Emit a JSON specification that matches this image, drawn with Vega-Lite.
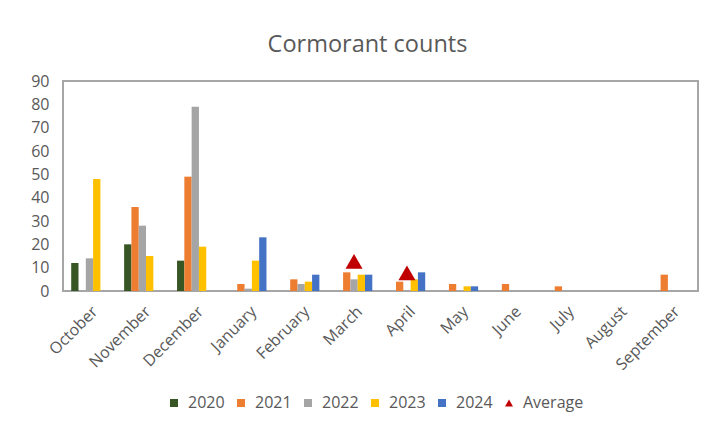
{
  "$schema": "https://vega.github.io/schema/vega-lite/v6.json",
  "width": 635,
  "height": 210,
  "autosize": {"type": "none"},
  "padding": {"left": 63, "top": 81, "right": 8, "bottom": 139},
  "background": "#ffffff",
  "title": {
    "text": "Cormorant counts",
    "font": "Open Sans",
    "fontSize": 23.5,
    "fontWeight": "normal",
    "color": "#595959",
    "anchor": "middle",
    "dx": -13,
    "baseline": "alphabetic",
    "offset": -2
  },
  "datasets": {
    "counts": [
      {"month": "October", "series": "2020", "count": 12},
      {"month": "October", "series": "2022", "count": 14},
      {"month": "October", "series": "2023", "count": 48},
      {"month": "November", "series": "2020", "count": 20},
      {"month": "November", "series": "2021", "count": 36},
      {"month": "November", "series": "2022", "count": 28},
      {"month": "November", "series": "2023", "count": 15},
      {"month": "December", "series": "2020", "count": 13},
      {"month": "December", "series": "2021", "count": 49},
      {"month": "December", "series": "2022", "count": 79},
      {"month": "December", "series": "2023", "count": 19},
      {"month": "January", "series": "2021", "count": 3},
      {"month": "January", "series": "2022", "count": 1},
      {"month": "January", "series": "2023", "count": 13},
      {"month": "January", "series": "2024", "count": 23},
      {"month": "February", "series": "2021", "count": 5},
      {"month": "February", "series": "2022", "count": 3},
      {"month": "February", "series": "2023", "count": 4},
      {"month": "February", "series": "2024", "count": 7},
      {"month": "March", "series": "2021", "count": 8},
      {"month": "March", "series": "2022", "count": 5},
      {"month": "March", "series": "2023", "count": 7},
      {"month": "March", "series": "2024", "count": 7},
      {"month": "April", "series": "2021", "count": 4},
      {"month": "April", "series": "2023", "count": 5},
      {"month": "April", "series": "2024", "count": 8},
      {"month": "May", "series": "2021", "count": 3},
      {"month": "May", "series": "2023", "count": 2},
      {"month": "May", "series": "2024", "count": 2},
      {"month": "June", "series": "2021", "count": 3},
      {"month": "July", "series": "2021", "count": 2},
      {"month": "September", "series": "2021", "count": 7}
    ],
    "average": [
      {"month": "March", "series": "Average", "count": 12.7},
      {"month": "April", "series": "Average", "count": 7.8}
    ]
  },
  "encoding": {
    "x": {
      "field": "month",
      "type": "nominal",
      "sort": ["October", "November", "December", "January", "February", "March", "April", "May", "June", "July", "August", "September"],
      "scale": {
        "domain": ["October", "November", "December", "January", "February", "March", "April", "May", "June", "July", "August", "September"],
        "paddingInner": 0.31,
        "paddingOuter": 0.155
      },
      "axis": {
        "title": null,
        "labelAngle": -45,
        "labelFont": "Open Sans",
        "labelFontSize": 16,
        "labelColor": "#595959",
        "labelPadding": 12,
        "ticks": false,
        "domain": false,
        "grid": false
      }
    },
    "y": {
      "field": "count",
      "type": "quantitative",
      "scale": {"domain": [0, 90], "nice": false},
      "axis": {
        "title": null,
        "values": [0, 10, 20, 30, 40, 50, 60, 70, 80, 90],
        "labelFont": "Open Sans",
        "labelFontSize": 16,
        "labelColor": "#595959",
        "labelPadding": 14,
        "ticks": false,
        "domain": false,
        "grid": false
      }
    },
    "color": {
      "field": "series",
      "type": "nominal",
      "scale": {
        "domain": ["2020", "2021", "2022", "2023", "2024", "Average"],
        "range": ["#375623", "#ED7D31", "#A5A5A5", "#FFC000", "#4472C4", "#C00000"]
      },
      "legend": {
        "title": null,
        "orient": "none",
        "direction": "horizontal",
        "legendX": 103,
        "legendY": 314,
        "labelFont": "Open Sans",
        "labelFontSize": 16,
        "labelColor": "#595959",
        "labelOffset": 6,
        "symbolSize": 64,
        "symbolStrokeWidth": 0,
        "symbolOpacity": 1,
        "columnPadding": 8
      }
    }
  },
  "layer": [
    {
      "data": {"name": "counts"},
      "mark": {"type": "bar"},
      "encoding": {
        "xOffset": {
          "field": "series",
          "type": "nominal",
          "scale": {"domain": ["2020", "2021", "2022", "2023", "2024"], "paddingInner": 0, "paddingOuter": 0}
        }
      }
    },
    {
      "data": {"name": "average"},
      "mark": {"type": "point", "filled": true, "opacity": 1, "size": 290},
      "encoding": {
        "shape": {
          "field": "series",
          "type": "nominal",
          "scale": {
            "domain": ["2020", "2021", "2022", "2023", "2024", "Average"],
            "range": ["square", "square", "square", "square", "square", "triangle-up"]
          },
          "legend": {
            "title": null,
            "orient": "none",
            "direction": "horizontal",
            "legendX": 103,
            "legendY": 314,
            "labelFont": "Open Sans",
            "labelFontSize": 16,
            "labelColor": "#595959",
            "labelOffset": 6,
            "symbolSize": 64,
            "symbolStrokeWidth": 0,
            "symbolOpacity": 1,
            "columnPadding": 8
          }
        }
      }
    }
  ],
  "config": {
    "view": {"stroke": "#A6A6A6", "strokeWidth": 2},
    "font": "Open Sans"
  }
}
